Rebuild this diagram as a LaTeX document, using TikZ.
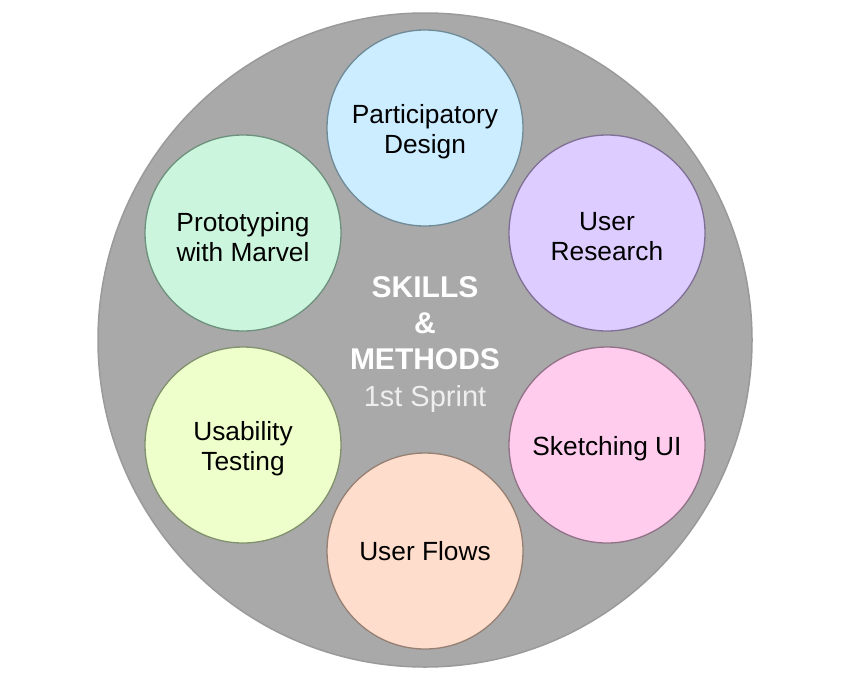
\documentclass[tikz,border=0pt]{standalone}
\usepackage{fontspec}
\setmainfont{Liberation Sans}
\begin{document}
\begin{tikzpicture}[x=1pt,y=-1pt,
  bubble/.style={circle, minimum size=196pt, inner sep=0pt, line width=1.3pt},
  btext/.style={align=center, inner sep=0pt, font=\fontsize{26.3}{30}\selectfont, text=black},
  title/.style={align=center, text=white, font=\fontsize{30}{36}\selectfont\bfseries}]
\definecolor{bigfill}{HTML}{A9A9A9}
\definecolor{bigline}{HTML}{9A9A9A}
\useasboundingbox (0,0) rectangle (850,680);
\node[circle, minimum size=654pt, inner sep=0pt, fill=bigfill, draw=bigline, line width=1.5pt] (big) at (425,340) {};
\node[bubble, fill={rgb,255:red,204;green,236;blue,255}, draw={rgb,255:red,112;green,138;blue,150}] (pd) at (425,128) {};
\node[bubble, fill={rgb,255:red,220;green,204;blue,255}, draw={rgb,255:red,128;green,112;blue,150}] (ur) at (607,233) {};
\node[bubble, fill={rgb,255:red,255;green,204;blue,238}, draw={rgb,255:red,145;green,115;blue,135}] (sk) at (607,445) {};
\node[bubble, fill={rgb,255:red,255;green,221;blue,204}, draw={rgb,255:red,150;green,128;blue,115}] (uf) at (425,551) {};
\node[bubble, fill={rgb,255:red,238;green,255;blue,204}, draw={rgb,255:red,130;green,145;blue,110}] (ut) at (243,445) {};
\node[bubble, fill={rgb,255:red,204;green,245;blue,222}, draw={rgb,255:red,110;green,145;blue,125}] (pm) at (243,233) {};
\node[btext] (pdt) at ([yshift=-4pt]pd.center) {Participatory\\Design};
\node[btext] (urt) at ([yshift=-4pt]ur.center) {User\\Research};
\node[btext] (skt) at ([yshift=-4pt]sk.center) {Sketching UI};
\node[btext] (uft) at ([yshift=0pt]uf.center) {User Flows};
\node[btext] (utt) at ([yshift=-4pt]ut.center) {Usability\\Testing};
\node[btext] (pmt) at ([yshift=-4pt]pm.center) {Prototyping\\with Marvel};
\node[title] (t) at (425,323) {SKILLS\\\&\\METHODS};
\node[text={rgb,255:red,238;green,238;blue,238}, font=\fontsize{29}{36}\selectfont] (s) at (425,399) {1st Sprint};
\end{tikzpicture}
\end{document}
